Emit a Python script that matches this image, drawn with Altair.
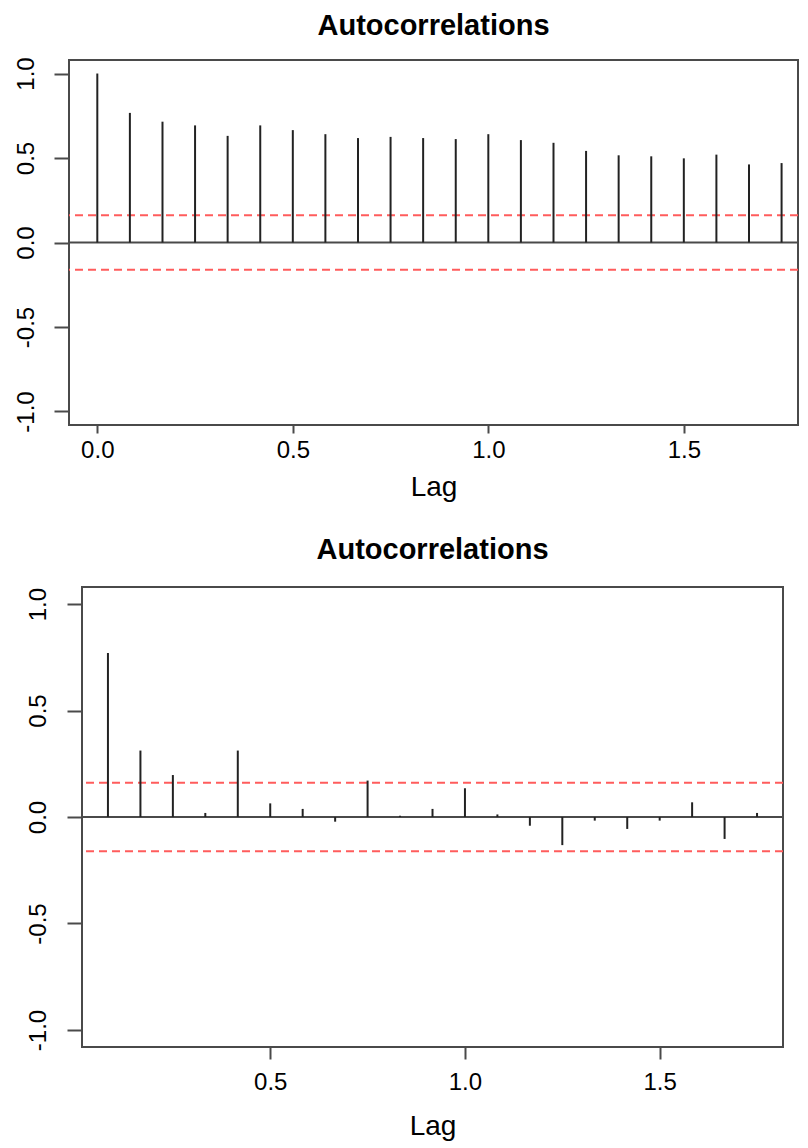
import altair as alt
import pandas as pd

# ---- data ----
lags_top = [0.0, 0.0833, 0.1667, 0.25, 0.3333, 0.4167, 0.5, 0.5833, 0.6667, 0.75, 0.8333,
            0.9167, 1.0, 1.0833, 1.1667, 1.25, 1.3333, 1.4167, 1.5, 1.5833, 1.6667, 1.75]
acf_top = [1.0, 0.767, 0.715, 0.693, 0.631, 0.693, 0.665, 0.641, 0.618, 0.625, 0.618,
           0.612, 0.641, 0.606, 0.590, 0.542, 0.516, 0.510, 0.498, 0.520, 0.462, 0.470]

lags_bot = [0.0833, 0.1667, 0.25, 0.3333, 0.4167, 0.5, 0.5833, 0.6667, 0.75, 0.8333,
            0.9167, 1.0, 1.0833, 1.1667, 1.25, 1.3333, 1.4167, 1.5, 1.5833, 1.6667, 1.75]
acf_bot = [0.770, 0.312, 0.197, 0.019, 0.312, 0.064, 0.038, -0.022, 0.171, 0.006,
           0.038, 0.135, 0.012, -0.041, -0.132, -0.017, -0.056, -0.017, 0.069, -0.103, 0.019]

ci_bounds = [0.161, -0.161]
y_ticks = [-1.0, -0.5, 0.0, 0.5, 1.0]
x_ticks_top = [0.0, 0.5, 1.0, 1.5]
x_ticks_bot = [0.5, 1.0, 1.5]
title_text = "Autocorrelations"
x_title = "Lag"

FONT = "Liberation Sans"
FRAME = "#4a4a4a"
BAR = "#222222"
RED = "#ff5c5c"

LABEL_EXPR = "datum.value < 0 ? '-' + format(-datum.value, '.1f') : format(datum.value, '.1f')"


def panel(lags, acf, x_dom, x_ticks, width, height, x_tick, x_lpad, lag_y, title_off, y_lpad):
    df = pd.DataFrame({"lag": lags, "acf": acf})
    xs = alt.Scale(domain=x_dom, nice=False, zero=False)
    ys = alt.Scale(domain=[-1.08, 1.08], nice=False, zero=False)
    yaxis = alt.Axis(values=y_ticks, labelExpr=LABEL_EXPR, labelAngle=270, labelAlign="center",
                     labelBaseline="alphabetic", labelPadding=y_lpad, tickSize=15, tickWidth=2,
                     tickColor=FRAME, domain=False, grid=False, labelFontSize=24,
                     labelColor="black", labelFont=FONT, title=None)
    xaxis = alt.Axis(values=x_ticks, format=".1f", labelAngle=0, labelBaseline="alphabetic",
                     labelPadding=x_lpad, tickSize=x_tick, tickWidth=2, tickColor=FRAME,
                     domain=False, grid=False, labelFontSize=24, labelColor="black",
                     labelFont=FONT, title=x_title, titleFontSize=28, titleFontWeight="normal",
                     titleFont=FONT, titleColor="black", titleBaseline="alphabetic", titleY=lag_y)
    bars = alt.Chart(df).mark_rule(color=BAR, strokeWidth=2).encode(
        x=alt.X("lag:Q", scale=xs, axis=xaxis),
        y=alt.Y("acf:Q", scale=ys, axis=yaxis),
        y2=alt.datum(0),
    )
    zero = alt.Chart(pd.DataFrame({"z": [0.0]})).mark_rule(color=FRAME, strokeWidth=2).encode(
        y=alt.Y("z:Q", scale=ys, axis=yaxis)
    )
    ci = alt.Chart(pd.DataFrame({"ci": ci_bounds})).mark_rule(
        color=RED, strokeWidth=2, strokeDash=[8, 5]
    ).encode(y=alt.Y("ci:Q", scale=ys, axis=yaxis))
    return alt.layer(zero, ci, bars).properties(
        width=width, height=height,
        title=alt.TitleParams(title_text, fontSize=29, fontWeight="bold", font=FONT,
                              color="black", anchor="middle", frame="group",
                              baseline="alphabetic", offset=title_off),
    )


def spacer(w):
    # invisible cell that only reserves horizontal room on the left of a panel
    return alt.Chart(pd.DataFrame({"s": [0]})).mark_rect(opacity=0).encode(
        x=alt.value(0), x2=alt.value(w), y=alt.value(0), y2=alt.value(1)
    ).properties(width=w, height=1, view=alt.ViewBackground(stroke="transparent"))


top = panel(lags_top, acf_top, [-0.0724, 1.792], x_ticks_top, 729, 365,
            x_tick=8, x_lpad=24, lag_y=70, title_off=-7, y_lpad=21)
bot = panel(lags_bot, acf_bot, [0.01667, 1.81667], x_ticks_bot, 701, 460,
            x_tick=12, x_lpad=30, lag_y=87, title_off=-1, y_lpad=22)

chart = alt.vconcat(
    alt.hconcat(spacer(2), top, spacing=0),
    alt.hconcat(spacer(15), bot, spacing=0),
    spacing=33,
).properties(
    padding={"left": 0, "top": 2, "right": 0, "bottom": 1}
).configure_view(stroke=FRAME, strokeWidth=2)

chart.save("out.html", embed_options={"renderer": "svg", "actions": False})
